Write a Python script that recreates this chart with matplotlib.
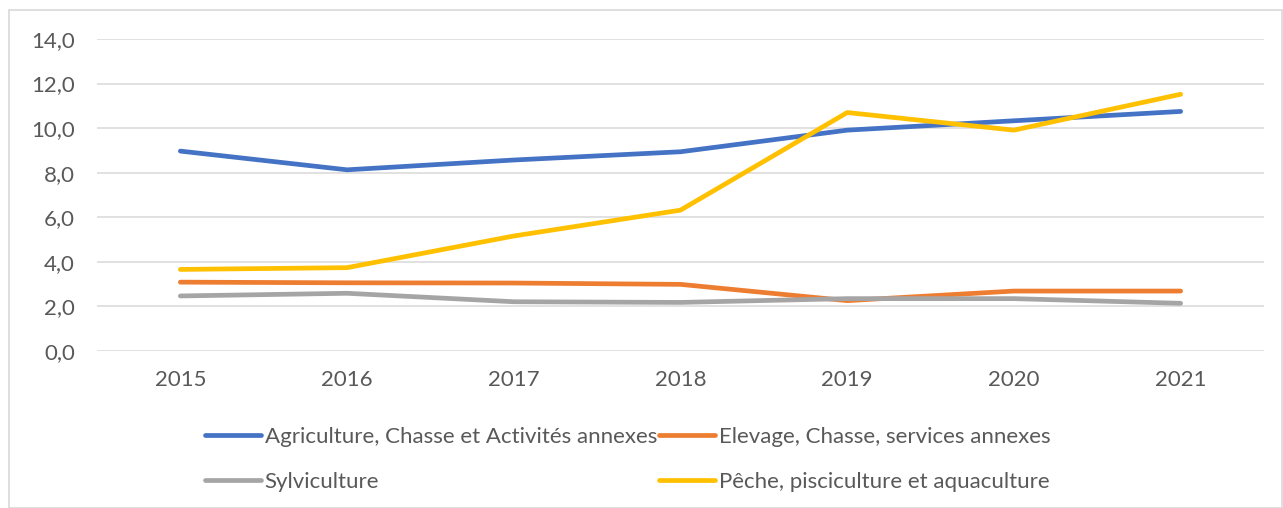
import matplotlib
matplotlib.use("Agg")
import matplotlib.pyplot as plt
from matplotlib.patches import Rectangle

years = ["2015", "2016", "2017", "2018", "2019", "2020", "2021"]
agriculture = [8.97, 8.13, 8.57, 8.94, 9.91, 10.33, 10.75]
elevage = [3.09, 3.06, 3.05, 2.99, 2.26, 2.69, 2.69]
sylviculture = [2.47, 2.59, 2.21, 2.18, 2.35, 2.35, 2.14]
peche = [3.66, 3.74, 5.16, 6.32, 10.70, 9.91, 11.52]
yticks = [0, 2, 4, 6, 8, 10, 12, 14]
ytick_labels = ["0,0", "2,0", "4,0", "6,0", "8,0", "10,0", "12,0", "14,0"]

names = ["Agriculture, Chasse et Activités annexes", "Elevage, Chasse, services annexes",
         "Sylviculture", "Pêche, pisciculture et aquaculture"]
colors = ["#4472C4", "#ED7D31", "#A5A5A5", "#FFC000"]

plt.rcParams['font.family'] = ['Lato', 'DejaVu Sans']

W, H = 1283, 508
fig = plt.figure(figsize=(W/100, H/100), dpi=100)
fig.patches.append(Rectangle((9/W, 0), (W-10)/W, (H-10)/H, transform=fig.transFigure,
                             fill=False, edgecolor="#D9D9D9", linewidth=1.2))
ax = fig.add_axes([97/W, 1-351/H, (1264-97)/W, (351-39)/H])

x = list(range(len(years)))
series = [agriculture, elevage, sylviculture, peche]
lines = []
for vals, name, c in zip(series, names, colors):
    ln, = ax.plot(x, vals, color=c, lw=3.4, solid_capstyle="round", solid_joinstyle="round", label=name)
    lines.append(ln)

ax.set_xlim(-0.5, 6.5)
ax.set_ylim(0, 14)
ax.set_yticks(yticks)
ax.set_yticklabels(ytick_labels)
ax.set_xticks(x)
ax.set_xticklabels(years)
ax.grid(axis="y", color="#D9D9D9", lw=1.1)
ax.set_axisbelow(True)
for s in ax.spines.values():
    s.set_visible(False)
ax.tick_params(length=0, labelsize=16, labelcolor="#595959")
ax.tick_params(axis="y", pad=16)
ax.tick_params(axis="x", pad=14)

order = [0, 2, 1, 3]
leg = fig.legend([lines[i] for i in order], [names[i] for i in order], ncol=2,
                 loc="upper left", bbox_to_anchor=(205/W, 1-427/H), frameon=False,
                 fontsize=16, handlelength=2.5, handletextpad=0.18, columnspacing=0.1,
                 labelspacing=1.12, borderpad=0, borderaxespad=0)
for t in leg.get_texts():
    t.set_color("#595959")

fig.savefig("out.png", dpi=100)
